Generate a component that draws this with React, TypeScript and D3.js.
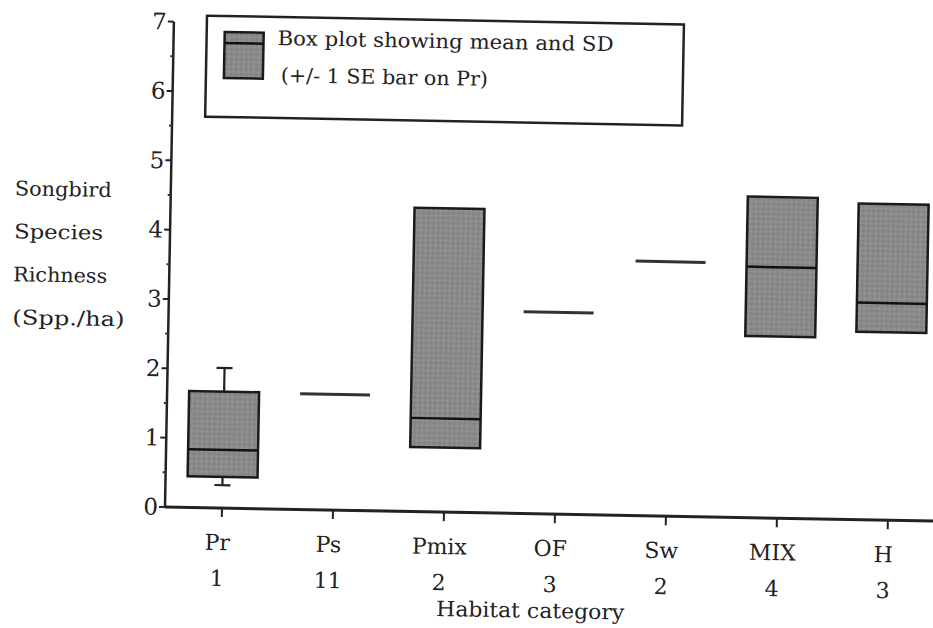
import React from "react";
import * as d3 from "d3";

const categories = ["Pr", "Ps", "Pmix", "OF", "Sw", "MIX", "H"];
const sampleSizes = ["1", "11", "2", "3", "2", "4", "3"];
const means = [0.84, 1.67, 1.35, 2.91, 3.67, 3.62, 3.13];
const sdLow: (number | null)[] = [0.45, null, 0.93, null, null, 2.62, 2.71];
const sdHigh: (number | null)[] = [1.68, null, 4.38, null, null, 4.63, 4.56];
const seLow: (number | null)[] = [0.33, null, null, null, null, null, null];
const seHigh: (number | null)[] = [2.02, null, null, null, null, null, null];
const yTicks = [0, 1, 2, 3, 4, 5, 6, 7];
const yMinorTicks = [0.5, 1.5, 2.5, 3.5, 4.5, 5.5, 6.5];
const yTitleLines = ["Songbird", "Species", "Richness", "(Spp./ha)"];
const xTitle = "Habitat category";
const legendLines = ["Box plot showing  mean and SD", "(+/- 1 SE  bar on Pr)"];

const FONT = "DejaVu Serif, serif";

export default function App() {
  const ox = 165;
  const oy = 507;
  const y = d3.scaleLinear().domain([0, 7]).range([oy, oy - 485.4]);
  const x = d3
    .scaleBand<string>()
    .domain(categories)
    .range([166.5, 943.5])
    .paddingInner(0.37)
    .paddingOuter(0.185);
  const bw = x.bandwidth();
  const cx = (c: string) => (x(c) as number) + bw / 2;
  const ts = { fontFamily: FONT };

  return (
    <svg
      width={933}
      height={628}
      style={{ position: "absolute", left: 0, top: 0, background: "#fff" }}
    >
      <defs>
        <pattern id="stip" width="5" height="5" patternUnits="userSpaceOnUse">
          <rect width="5" height="5" fill="#8a8a8a" />
          <rect x="0" y="0" width="1.2" height="1.2" fill="#a6a6a6" />
          <rect x="2.5" y="2.5" width="1.2" height="1.2" fill="#707070" />
        </pattern>
      </defs>
      <g transform={`rotate(1.05, ${ox}, ${oy})`}>
        {/* Y axis */}
        <line x1={ox} y1={y(0)} x2={ox} y2={y(7)} stroke="#222" strokeWidth={2.5} />
        {yTicks.map((t) => (
          <g key={"yt" + t}>
            <line x1={ox - 6} x2={ox} y1={y(t)} y2={y(t)} stroke="#222" strokeWidth={2} />
            <text x={ox - 7} y={y(t) + 8} textAnchor="end" fontSize={23} fill="#222" style={ts}>
              {t}
            </text>
          </g>
        ))}
        {yMinorTicks.map((t) => (
          <line key={"ym" + t} x1={ox - 3} x2={ox} y1={y(t)} y2={y(t)} stroke="#333" strokeWidth={2} />
        ))}

        {/* X axis */}
        <line x1={ox} y1={oy} x2={960} y2={oy} stroke="#222" strokeWidth={3} />
        {categories.map((c, i) => (
          <g key={"xt" + c}>
            <line x1={cx(c)} x2={cx(c)} y1={oy} y2={oy + 9} stroke="#222" strokeWidth={2} />
            <text x={cx(c) - 4} y={549} textAnchor="middle" fontSize={22} fill="#222" style={ts}>
              {c}
            </text>
            <text x={cx(c) - 4} y={585} textAnchor="middle" fontSize={22} fill="#222" style={ts}>
              {sampleSizes[i]}
            </text>
          </g>
        ))}
        <text x={532} y={611} textAnchor="middle" fontSize={21} fill="#222" style={ts} textLength={188} lengthAdjust="spacingAndGlyphs">
          {xTitle}
        </text>

        {/* Y title */}
        {yTitleLines.map((l, i) => (
          <text
            key={l}
            x={9}
            y={198 + i * 43}
            fontSize={20}
            fill="#222"
            style={ts}
            textLength={[97, 89, 94, 112][i]}
            lengthAdjust="spacingAndGlyphs"
          >
            {l}
          </text>
        ))}

        {/* Marks */}
        {categories.map((c, i) => {
          const lo = sdLow[i];
          const hi = sdHigh[i];
          const x0 = x(c) as number;
          const m = means[i];
          const parts: React.ReactNode[] = [];
          if (seLow[i] != null && seHigh[i] != null) {
            const sl = seLow[i] as number;
            const sh = seHigh[i] as number;
            parts.push(
              <g key="se" stroke="#222" strokeWidth={2.2}>
                <line x1={cx(c)} x2={cx(c)} y1={y(sh)} y2={y(hi ?? m)} />
                <line x1={cx(c)} x2={cx(c)} y1={y(sl)} y2={y(lo ?? m)} />
                <line x1={cx(c) - 8} x2={cx(c) + 8} y1={y(sh)} y2={y(sh)} />
                <line x1={cx(c) - 8} x2={cx(c) + 8} y1={y(sl)} y2={y(sl)} />
              </g>
            );
          }
          if (lo != null && hi != null) {
            parts.push(
              <rect
                key="box"
                x={x0}
                y={y(hi)}
                width={bw}
                height={y(lo) - y(hi)}
                fill="url(#stip)"
                stroke="#1a1a1a"
                strokeWidth={2.5}
              />
            );
            parts.push(
              <line key="mean" x1={x0} x2={x0 + bw} y1={y(m)} y2={y(m)} stroke="#111" strokeWidth={2.5} />
            );
          } else {
            parts.push(
              <line key="mean" x1={x0} x2={x0 + bw} y1={y(m)} y2={y(m)} stroke="#333" strokeWidth={3} />
            );
          }
          return <g key={"m" + c}>{parts}</g>;
        })}

        {/* Legend */}
        <rect x={198} y={15} width={477} height={101} fill="#fff" stroke="#222" strokeWidth={2.5} />
        <rect x={216} y={31} width={39} height={46} fill="url(#stip)" stroke="#1a1a1a" strokeWidth={2.5} />
        <line x1={216} x2={255} y1={42} y2={42} stroke="#111" strokeWidth={2.5} />
        <text x={269} y={43} fontSize={20} fill="#222" style={ts} textLength={336} lengthAdjust="spacingAndGlyphs">
          {legendLines[0]}
        </text>
        <text x={273} y={80} fontSize={20} fill="#222" style={ts} textLength={207} lengthAdjust="spacingAndGlyphs">
          {legendLines[1]}
        </text>
      </g>
    </svg>
  );
}
